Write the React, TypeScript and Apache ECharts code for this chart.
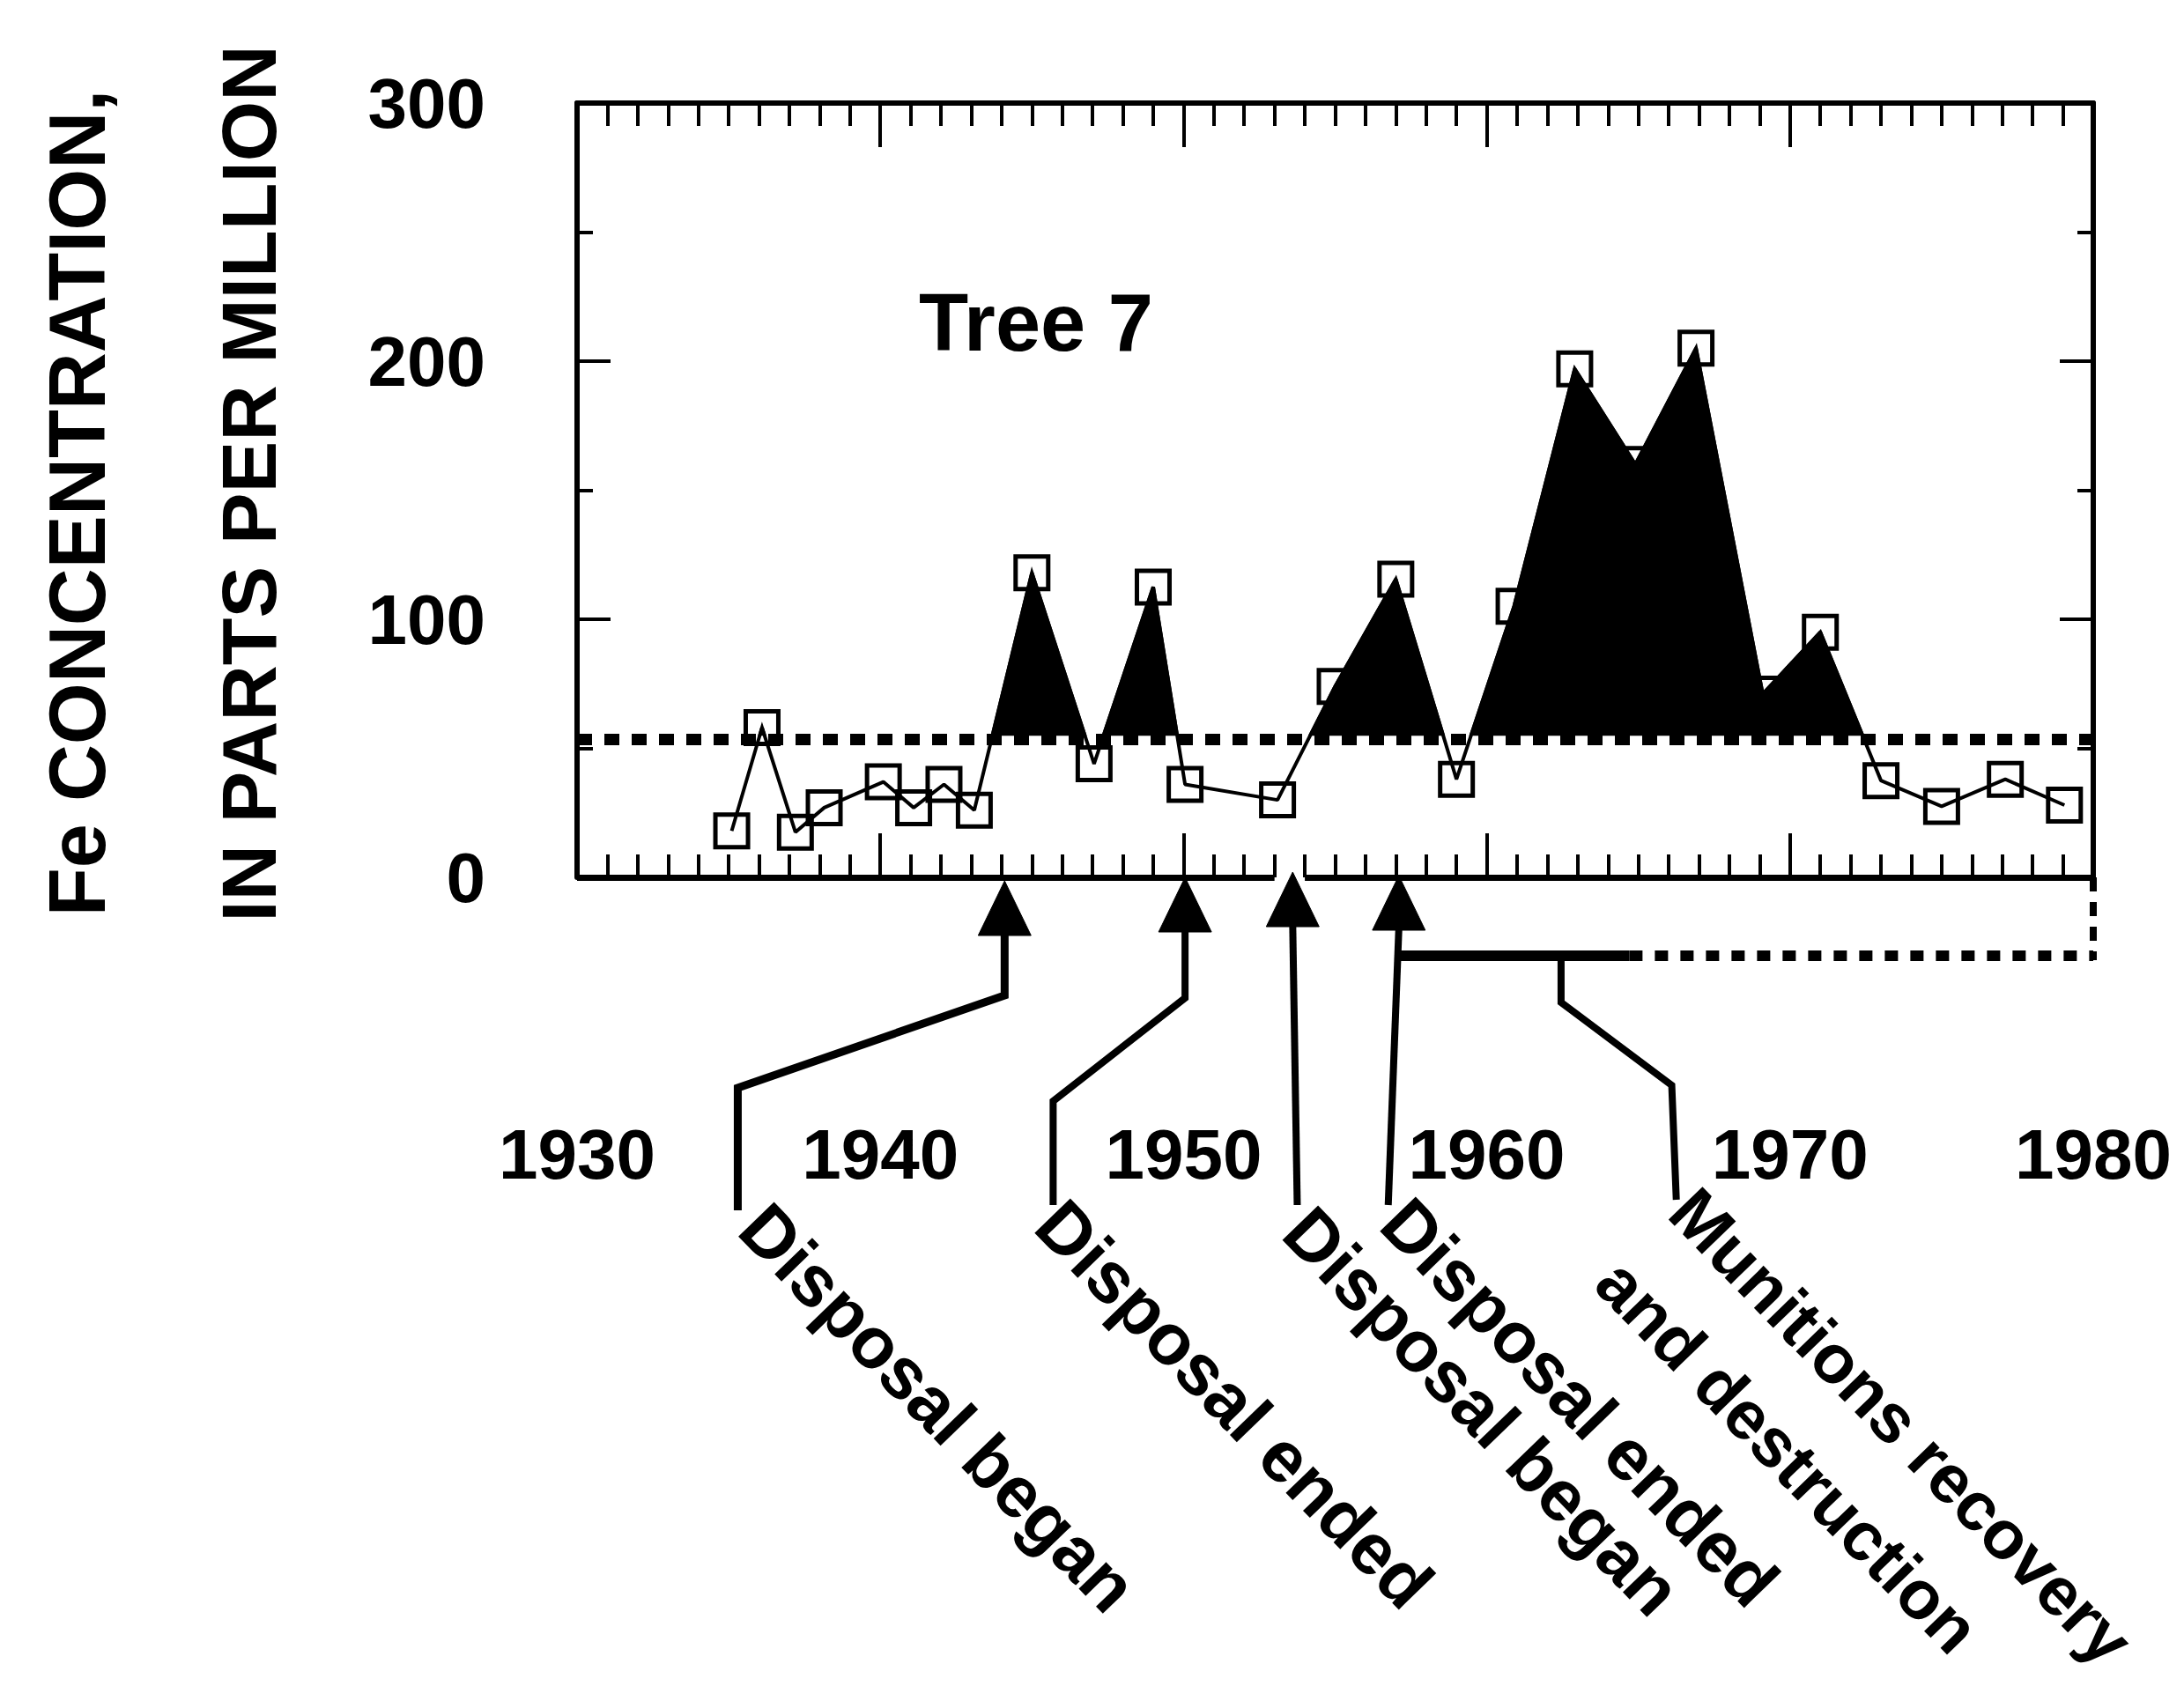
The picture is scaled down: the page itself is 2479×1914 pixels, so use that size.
import React, { useEffect, useRef } from "react";
import * as echarts from "echarts";

// ---- data ----
const years = [1935.1, 1936.1, 1937.2, 1938.15, 1940.1, 1941.1, 1942.1, 1943.1, 1945.0, 1947.05, 1949.0, 1950.05, 1953.1, 1955.0, 1957.0, 1959.0, 1960.9, 1962.9, 1964.9, 1966.9, 1969.1, 1971.0, 1973.0, 1975.0, 1977.1, 1979.05];
const feValues = [18, 58, 17.5, 27, 37, 27, 36, 26, 118, 44, 112.5, 36, 30, 74, 115.5, 38, 105, 197, 160, 205, 71, 95, 37.5, 27.5, 38, 28];
const threshold = 53.5;
const yTickLabels = [0, 100, 200, 300];
const yearTickLabels = [1930, 1940, 1950, 1960, 1970, 1980];
const eventYears = [1944.1, 1950.05, 1953.6, 1957.1, 1962.45];
const eventLabels = ["Disposal began", "Disposal ended", "Disposal began", "Disposal ended", "Munitions recovery\nand destruction"];
const recoveryPeriod = [1957.1, 1964.7, 1980];
const axisGap = [1953.0, 1954.0];

// ---- layout (pixel offsets below the x axis, year offsets from the event year) ----
const FONT = "'Liberation Sans', Arial, Helvetica, sans-serif";
const LEADERS: number[][][] = [
  [[0, 62], [0, 134], [-8.8, 239], [-8.8, 378]],
  [[0, 60], [0, 137], [-4.35, 254], [-4.35, 372]],
  [[0, 54], [0.15, 372]],
  [[0, 58], [-0.35, 372]],
  [[0, 89], [0, 142], [3.65, 236], [3.8, 366]],
];
const TIP_OFFSETS = [4, 0, -6, -2];
const LABEL_ANCHORS = [[-8.3, 384], [-4.48, 380], [0.14, 388], [-0.14, 378], [4.0, 366]];
const LABEL_SIZES = [82, 82, 82, 82, 78];
const BAR_OFFSET = 89;
const TEXT_ANGLE = -0.803;
const LINE_STEP = 116;

export default function App() {
  const ref = useRef<HTMLDivElement>(null);
  useEffect(() => {
    if (!ref.current) return;
    const chart = echarts.init(ref.current, null, { renderer: "svg" });

    const xAxisCommon = {
      type: "value",
      min: 1930,
      max: 1980,
      interval: 10,
      splitLine: { show: false },
      minorSplitLine: { show: false },
      axisTick: { show: true, inside: true, length: 50, lineStyle: { color: "#000", width: 4 } },
      minorTick: { show: true, splitNumber: 10, length: 26, lineStyle: { color: "#000", width: 4 } },
    };
    const yAxisCommon = {
      type: "value",
      min: 0,
      max: 300,
      interval: 100,
      splitLine: { show: false },
      minorSplitLine: { show: false },
      axisLine: { show: true, onZero: false, lineStyle: { color: "#000", width: 6 } },
      axisTick: { show: true, inside: true, length: 38, lineStyle: { color: "#000", width: 4 } },
      minorTick: { show: true, splitNumber: 2, length: 18, lineStyle: { color: "#000", width: 4 } },
    };

    const option: any = {
      animation: false,
      backgroundColor: "#fff",
      grid: { left: 655, right: 103, top: 117, bottom: 918, containLabel: false },
      xAxis: [
        {
          ...xAxisCommon,
          position: "bottom",
          axisLine: { show: false, onZero: false },
          axisLabel: {
            show: true,
            margin: 274,
            color: "#000",
            fontSize: 80,
            fontWeight: "bold",
            fontFamily: FONT,
            formatter: (v: number) => (yearTickLabels.includes(v) ? String(v) : ""),
          },
        },
        {
          ...xAxisCommon,
          position: "top",
          axisLine: { show: true, onZero: false, lineStyle: { color: "#000", width: 6 } },
          axisLabel: { show: false },
        },
      ],
      yAxis: [
        {
          ...yAxisCommon,
          position: "left",
          axisLabel: {
            show: true,
            margin: 104,
            color: "#000",
            fontSize: 80,
            fontWeight: "bold",
            fontFamily: FONT,
            formatter: (v: number) => (yTickLabels.includes(v) ? String(v) : ""),
          },
        },
        { ...yAxisCommon, position: "right", axisLabel: { show: false } },
      ],
      graphic: [
        {
          type: "text",
          x: 88,
          y: 571,
          rotation: Math.PI / 2,
          style: {
            text: "Fe CONCENTRATION,",
            fill: "#000",
            fontSize: 90,
            fontWeight: "bold",
            fontFamily: FONT,
            textAlign: "center",
            textVerticalAlign: "middle",
            align: "center",
            verticalAlign: "middle",
          },
        },
        {
          type: "text",
          x: 282,
          y: 549,
          rotation: Math.PI / 2,
          style: {
            text: "IN PARTS PER MILLION",
            fill: "#000",
            fontSize: 88,
            fontWeight: "bold",
            fontFamily: FONT,
            textAlign: "center",
            textVerticalAlign: "middle",
            align: "center",
            verticalAlign: "middle",
          },
        },
        {
          type: "text",
          x: 1043,
          y: 366,
          style: {
            text: "Tree 7",
            fill: "#000",
            fontSize: 92,
            fontWeight: "bold",
            fontFamily: FONT,
            textAlign: "left",
            textVerticalAlign: "middle",
            align: "left",
            verticalAlign: "middle",
          },
        },
      ],
      series: [
        {
          type: "line",
          xAxisIndex: 0,
          yAxisIndex: 0,
          data: years.map((y, i) => [y, feValues[i]]),
          symbol: "rect",
          symbolSize: 37,
          showAllSymbol: true,
          lineStyle: { color: "#000", width: 4 },
          itemStyle: { color: "rgba(0,0,0,0)", borderColor: "#000", borderWidth: 5 },
          emphasis: { disabled: true },
          silent: true,
          z: 2,
          markLine: {
            silent: true,
            symbol: ["none", "none"],
            label: { show: false },
            emphasis: { disabled: true },
            data: [
              { yAxis: threshold, lineStyle: { color: "#000", width: 13, type: [17, 14] } },
              [
                { coord: [1930, 0], lineStyle: { color: "#000", width: 7, type: "solid" } },
                { coord: [axisGap[0], 0] },
              ],
              [
                { coord: [axisGap[1], 0], lineStyle: { color: "#000", width: 7, type: "solid" } },
                { coord: [1980, 0] },
              ],
            ],
          },
        },
        {
          type: "custom",
          xAxisIndex: 0,
          yAxisIndex: 0,
          silent: true,
          z: 3,
          data: [[1955, 150]],
          renderItem: (params: any, api: any) => {
            const pts = years.map((y, i) => api.coord([y, feValues[i]]));
            const yb = api.coord([1930, threshold])[1] - 6;
            const polys: number[][][] = [];
            let cur: number[][] | null = null;
            for (let i = 0; i < pts.length; i++) {
              const p = pts[i];
              const above = p[1] < yb;
              if (i > 0) {
                const q = pts[i - 1];
                const qAbove = q[1] < yb;
                if (above !== qAbove) {
                  const t = (yb - q[1]) / (p[1] - q[1]);
                  const ix = q[0] + t * (p[0] - q[0]);
                  if (above) {
                    cur = [[ix, yb]];
                  } else if (cur) {
                    cur.push([ix, yb]);
                    polys.push(cur);
                    cur = null;
                  }
                }
              } else if (above) {
                cur = [[p[0], yb]];
              }
              if (above && cur) cur.push([p[0], p[1]]);
            }
            if (cur) {
              cur.push([pts[pts.length - 1][0], yb]);
              polys.push(cur);
            }
            return {
              type: "group",
              children: polys.map((points) => ({
                type: "polygon",
                shape: { points },
                style: { fill: "#000", stroke: "#000", lineWidth: 4, lineJoin: "miter" },
              })),
            };
          },
        },
        {
          type: "custom",
          xAxisIndex: 0,
          yAxisIndex: 0,
          silent: true,
          clip: false,
          z: 4,
          data: eventYears.map((y) => [y, 0]),
          renderItem: (params: any, api: any) => {
            const i = params.dataIndex;
            const yr = eventYears[i];
            const y0 = api.coord([1930, 0])[1];
            const X = (v: number) => api.coord([v, 0])[0];
            const children: any[] = [];
            const pts = LEADERS[i].map(([dy, off]) => [X(yr + dy), y0 + off]);
            children.push({
              type: "polyline",
              shape: { points: pts },
              style: { stroke: "#000", fill: "none", lineWidth: i === 0 ? 9 : 8, lineJoin: "miter" },
            });
            if (i < 4) {
              const tx = X(yr);
              const ty = y0 + TIP_OFFSETS[i];
              children.push({
                type: "polygon",
                shape: { points: [[tx, ty], [tx - 30, ty + 62], [tx + 30, ty + 62]] },
                style: { fill: "#000", stroke: "#000", lineWidth: 1 },
              });
            } else {
              const by = y0 + BAR_OFFSET;
              children.push({
                type: "line",
                shape: { x1: X(recoveryPeriod[0]) - 4, y1: by, x2: X(recoveryPeriod[1]), y2: by },
                style: { stroke: "#000", lineWidth: 12 },
              });
              children.push({
                type: "line",
                shape: { x1: X(recoveryPeriod[1]), y1: by, x2: X(recoveryPeriod[2]), y2: by },
                style: { stroke: "#000", lineWidth: 12, lineDash: [15, 14] },
              });
              children.push({
                type: "line",
                shape: { x1: X(recoveryPeriod[2]), y1: y0, x2: X(recoveryPeriod[2]), y2: by + 5 },
                style: { stroke: "#000", lineWidth: 8, lineDash: [16, 12] },
              });
            }
            const [ady, aoff] = LABEL_ANCHORS[i];
            const ax = X(yr + ady);
            const ay = y0 + aoff;
            const px = Math.sin(TEXT_ANGLE); // perpendicular step (down-left)
            const py = Math.cos(TEXT_ANGLE);
            eventLabels[i].split("\n").forEach((line, k) => {
              children.push({
                type: "text",
                x: ax + k * LINE_STEP * px,
                y: ay + k * LINE_STEP * py,
                rotation: TEXT_ANGLE,
                style: {
                  text: line,
                  fill: "#000",
                  fontSize: LABEL_SIZES[i],
                  fontWeight: "bold",
                  fontFamily: FONT,
                  lineHeight: LABEL_SIZES[i],
                  textAlign: "left",
                  textVerticalAlign: "middle",
                  align: "left",
                  verticalAlign: "middle",
                },
              });
            });
            return { type: "group", children };
          },
        },
      ],
    };

    chart.setOption(option);
    return () => chart.dispose();
  }, []);

  return (
    <div
      ref={ref}
      style={{ position: "fixed", left: 0, top: 0, width: "2479px", height: "1914px", background: "#fff" }}
    />
  );
}
